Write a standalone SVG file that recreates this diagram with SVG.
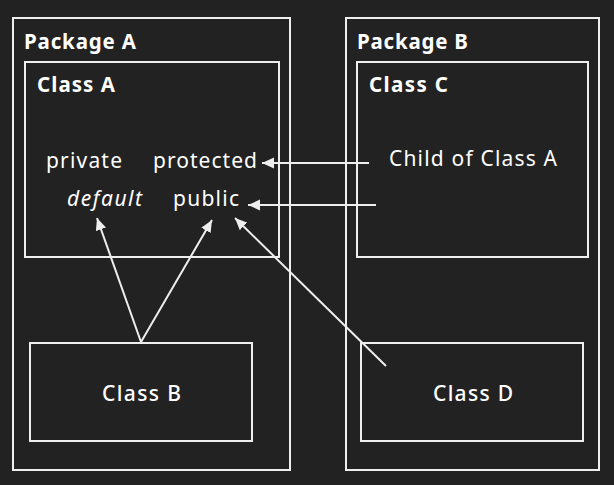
<svg xmlns="http://www.w3.org/2000/svg" width="614" height="485" viewBox="0 0 614 485">
<style>
.box{fill:none;stroke:#eeeeee;stroke-width:2}
.t{font-family:"Noto Sans",Lato,sans-serif;fill:#ffffff;font-size:21px}
.b{font-weight:bold;font-size:20.5px}
.m{font-weight:500}
.e{stroke:#eeeeee;stroke-width:2;fill:none;marker-end:url(#ah)}
</style>
<defs>
<marker id="ah" viewBox="0 0 10 10" refX="10" refY="5" markerWidth="6" markerHeight="6" markerUnits="strokeWidth" orient="auto">
<path d="M0,0.5 L10,5 L0,9.5 z" fill="#eeeeee"/>
</marker>
</defs>
<rect width="614" height="485" fill="#222222"/>
<g id="packageA"><rect class="box" x="13" y="18" width="277" height="452"/><text class="t b" x="24" y="49" textLength="112">Package A</text></g>
<g id="packageB"><rect class="box" x="346" y="18" width="253" height="452"/><text class="t b" x="357" y="49" textLength="111">Package B</text></g>
<g id="classA"><rect class="box" x="25" y="62" width="254" height="195"/><text class="t b" x="37" y="92" textLength="78">Class A</text>
<text class="t" x="46" y="168" textLength="76">private</text>
<text class="t" x="153" y="168" textLength="104">protected</text>
<text class="t" x="67" y="206" font-style="italic" textLength="75">default</text>
<text class="t" x="173" y="206" textLength="66">public</text></g>
<g id="classC"><rect class="box" x="357" y="62" width="231" height="195"/><text class="t b" x="369" y="92" textLength="79">Class C</text>
<text class="t" x="389" y="166" textLength="168">Child of Class A</text></g>
<g id="classB"><rect class="box" x="30" y="343" width="222" height="98"/><text class="t m" x="102" y="401" textLength="79">Class B</text></g>
<g id="classD"><rect class="box" x="361" y="343" width="222" height="98"/><text class="t m" x="433" y="401" textLength="80">Class D</text></g>
<g id="connectors">
<line class="e" x1="369" y1="163" x2="262" y2="163"/>
<line class="e" x1="376" y1="205" x2="248" y2="205"/>
<line class="e" x1="141" y1="342" x2="97" y2="218"/>
<line class="e" x1="141" y1="342" x2="212" y2="220"/>
<line class="e" x1="386" y1="366" x2="235" y2="218"/>
</g>
</svg>
